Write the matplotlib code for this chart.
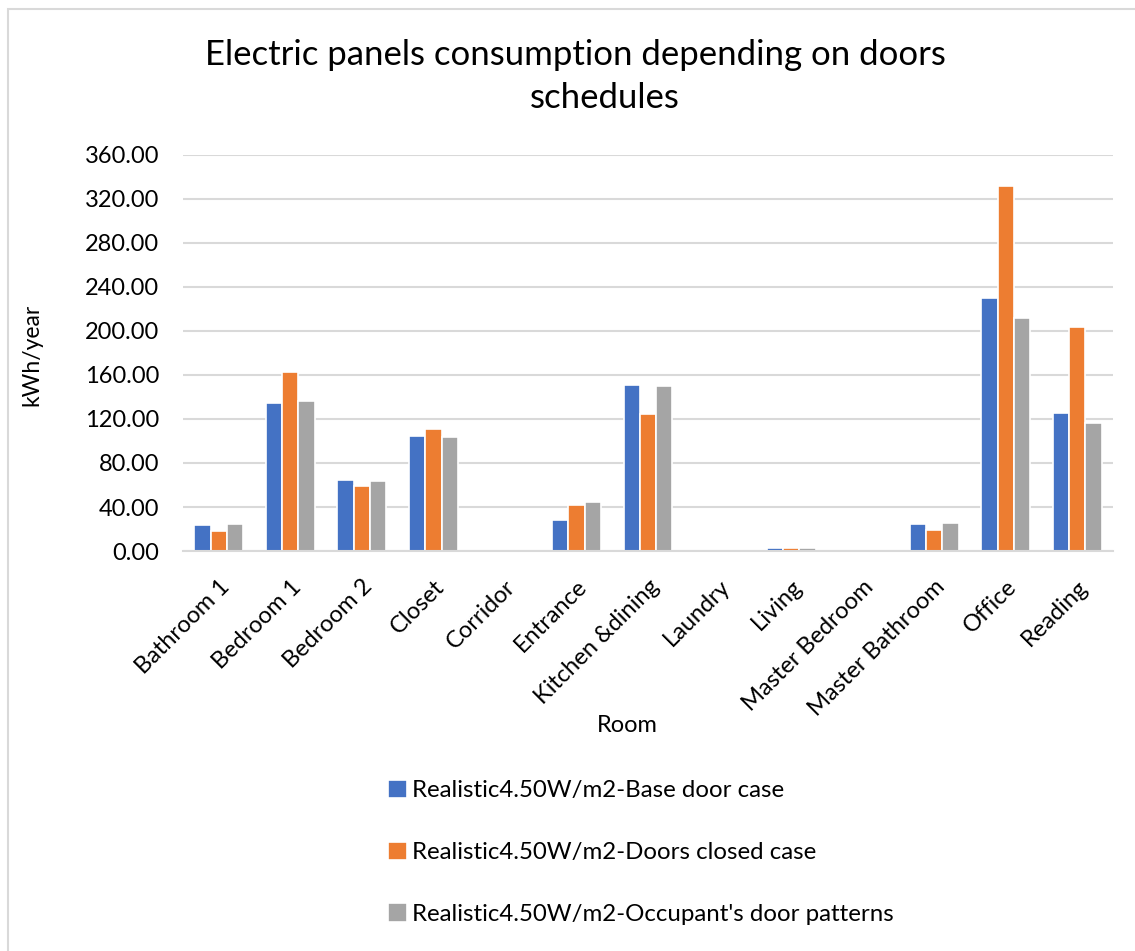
import matplotlib
matplotlib.use("Agg")
import matplotlib.pyplot as plt
import numpy as np
from matplotlib.patches import Rectangle

plt.rcParams["font.family"] = ["Lato", "DejaVu Sans"]

rooms = ["Bathroom 1", "Bedroom 1", "Bedroom 2", "Closet", "Corridor", "Entrance",
         "Kitchen &dining", "Laundry", "Living", "Master Bedroom", "Master Bathroom",
         "Office", "Reading"]

base_door = [24.0, 134.8, 64.2, 104.5, 0.0, 27.9, 150.9, 0.0, 3.0, 0.0, 24.8, 230.3, 125.7]
doors_closed = [18.2, 163.0, 59.4, 111.2, 0.0, 41.8, 124.2, 0.0, 2.7, 0.0, 19.0, 331.6, 203.9]
occupant = [24.5, 136.0, 63.9, 103.3, 0.0, 44.8, 150.3, 0.0, 2.4, 0.0, 25.5, 211.5, 116.4]

labels = ["Realistic4.50W/m2-Base door case",
          "Realistic4.50W/m2-Doors closed case",
          "Realistic4.50W/m2-Occupant's door patterns"]
colors = ["#4472c4", "#ed7d31", "#a5a5a5"]

W, H = 1135, 951
fig = plt.figure(figsize=(W / 100, H / 100), dpi=100)
ax = fig.add_axes([183 / W, 1 - 551 / H, 930 / W, 396 / H])

x = np.arange(len(rooms))
step = 0.228
for i, (vals, lab, col) in enumerate(zip([base_door, doors_closed, occupant], labels, colors)):
    ax.bar(x + (i - 1) * step, vals, width=step, color=col, edgecolor="white",
           linewidth=1.2, label=lab, zorder=3)

ax.set_xlim(-0.5, len(rooms) - 0.5)
ax.set_ylim(0, 360)
ax.set_yticks(np.arange(0, 361, 40))
ax.set_yticklabels([f"{v:.2f}" for v in range(0, 361, 40)])
ax.set_xticks(x)
ax.set_xticklabels(rooms, rotation=45, ha="right", rotation_mode="anchor")
ax.tick_params(axis="both", length=0, labelsize=17, colors="#000000")
ax.tick_params(axis="y", pad=17)
ax.tick_params(axis="x", pad=18)
ax.grid(axis="y", color="#d9d9d9", linewidth=1.5, zorder=0)
for s in ["top", "right", "left"]:
    ax.spines[s].set_visible(False)
ax.spines["bottom"].set_color("#d9d9d9")
ax.spines["bottom"].set_linewidth(1.5)
ax.spines["bottom"].set_zorder(4)

fig.text(32 / W, 1 - 355 / H, "kWh/year", fontsize=16.5, rotation=90, ha="center", va="center")
fig.text(627 / W, 1 - 726 / H, "Room", fontsize=17, ha="center", va="center")

fig.text(575 / W, 1 - 55 / H, "Electric panels consumption depending on doors",
         fontsize=25, ha="center", va="center")
fig.text(605 / W, 1 - 98 / H, "schedules", fontsize=25, ha="center", va="center")

fig.legend(loc="upper left", bbox_to_anchor=(366 / W, 1 - 758 / H), frameon=False,
           fontsize=17.3, labelspacing=1.68, handlelength=0.8, handleheight=0.8,
           handletextpad=0.2)

# light grey chart border
fig.patches.append(Rectangle((8 / W, -0.05), 1.1, 1 - 9 / H + 0.05,
                             transform=fig.transFigure, fill=False,
                             edgecolor="#d9d9d9", linewidth=1.5))

fig.savefig("out.png", dpi=100)
